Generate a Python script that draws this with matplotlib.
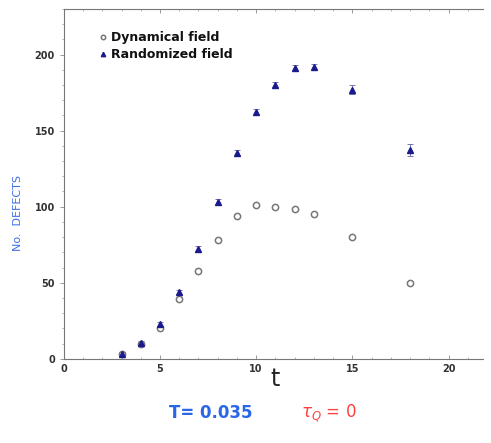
import matplotlib
matplotlib.use("Agg")
import matplotlib.pyplot as plt
from matplotlib.ticker import MultipleLocator

t = [3, 4, 5, 6, 7, 8, 9, 10, 11, 12, 13, 15, 18]
dynamical = [3, 10, 20, 39, 58, 78, 94, 101, 100, 98.5, 95, 80, 50]
randomized = [3.3, 10.5, 23, 44, 72, 103, 135, 162, 180, 191, 192, 177, 137]
rand_err = [1, 1, 1.5, 1.5, 2, 2, 2, 2, 2, 2, 2, 3, 4]
xticks = [0, 5, 10, 15, 20]
yticks = [0, 50, 100, 150, 200]

fig = plt.figure(figsize=(4.91, 4.43), dpi=100)
ax = fig.add_axes([0.130, 0.190, 0.854, 0.790])

eb = ax.errorbar(t, randomized, yerr=rand_err, fmt='^', color='#1a1a8c', ms=4.5,
                 elinewidth=0.6, capsize=2, capthick=0.6, ecolor='#6060a0',
                 zorder=3)
dyn, = ax.plot(t, dynamical, 'o', mfc='none', mec='#777777', mew=1.1, ms=4.5,
               zorder=3)

ax.set_xlim(0, 21.8)
ax.set_ylim(0, 230)
ax.set_xticks(xticks)
ax.set_yticks(yticks)
ax.xaxis.set_minor_locator(MultipleLocator(1))
ax.yaxis.set_minor_locator(MultipleLocator(10))
ax.tick_params(axis='both', which='major', labelsize=7, length=3, width=0.6,
               color='#888888', labelcolor='#333333', direction='out')
ax.tick_params(axis='x', which='major', pad=4)
ax.tick_params(axis='both', which='minor', length=1.5, width=0.5, color='#999999')
ax.tick_params(axis='x', which='both', top=True, direction='in')
for lab in ax.get_xticklabels() + ax.get_yticklabels():
    lab.set_fontweight('bold')
ax.spines['right'].set_visible(False)
for s in ['left', 'bottom', 'top']:
    ax.spines[s].set_color('#777777')
    ax.spines[s].set_linewidth(0.8)

leg = ax.legend([dyn, eb.lines[0]], ['Dynamical field', 'Randomized field'],
                loc='upper left', bbox_to_anchor=(0.055, 0.968),
                frameon=False, fontsize=9,
                handletextpad=0.2, labelspacing=0.3, handlelength=0.8,
                markerscale=0.7)
for txt in leg.get_texts():
    txt.set_fontweight('bold')
    txt.set_color('#111111')

fig.text(0.037, 0.52, 'No.  DEFECTS', rotation=90, color='#3a6ee8',
         fontsize=8, ha='center', va='center')
fig.text(0.56, 0.145, 't', color='#222222', fontsize=17, ha='center', va='center')
fig.text(0.43, 0.068, 'T= 0.035', color='#2a66e8', fontsize=12,
         ha='center', va='center', fontweight='bold')
fig.text(0.67, 0.068, r'$\tau_{Q}$ = 0', color='#ff4040', fontsize=12,
         ha='center', va='center')

fig.savefig('out.png', dpi=100)
